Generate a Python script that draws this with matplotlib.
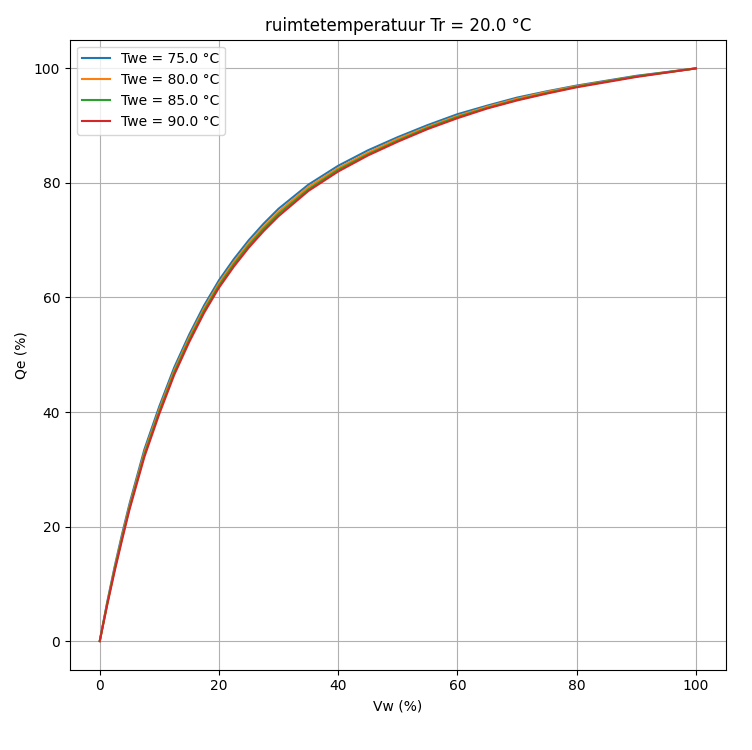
import numpy as np
import matplotlib.pyplot as plt

# values
vw = [0, 1.25, 2.5, 3.75, 5, 7.5, 10, 12.5, 15, 17.5, 20, 22.5, 25, 27.5, 30, 35, 40, 45, 50, 55, 60, 65, 70, 75, 80, 90, 100]
qe_75 = [0, 6.8, 13, 18.7, 24, 33.5, 41, 47.8, 53.5, 58.6, 63, 66.7, 70, 72.9, 75.5, 79.7, 83, 85.7, 88, 90.1, 92, 93.5, 94.9, 96, 97, 98.7, 100]
qe_80 = [0, 6.6, 12.7, 18.3, 23.6, 33, 40.5, 47.3, 53, 58.1, 62.5, 66.2, 69.5, 72.4, 75, 79.3, 82.6, 85.3, 87.7, 89.8, 91.7, 93.3, 94.7, 95.9, 96.9, 98.6, 100]
qe_85 = [0, 6.5, 12.5, 18, 23.3, 32.6, 40.1, 46.9, 52.6, 57.7, 62.1, 65.8, 69.1, 72, 74.6, 78.9, 82.3, 85, 87.4, 89.6, 91.5, 93.1, 94.5, 95.7, 96.8, 98.6, 100]
qe_90 = [0, 6.3, 12.2, 17.7, 23, 32.2, 39.7, 46.5, 52.2, 57.3, 61.7, 65.4, 68.7, 71.6, 74.2, 78.6, 82, 84.8, 87.2, 89.4, 91.3, 93, 94.4, 95.6, 96.7, 98.5, 100]
labels = ['Twe = 75.0 °C', 'Twe = 80.0 °C', 'Twe = 85.0 °C', 'Twe = 90.0 °C']

fig = plt.figure(figsize=(7.52, 7.5), dpi=100)
ax = fig.add_axes([0.093, 0.107, 0.872, 0.84])
for y, lab in zip([qe_75, qe_80, qe_85, qe_90], labels):
    ax.plot(vw, y, label=lab)
ax.set_xlim(-5, 105)
ax.set_ylim(-5, 105)
ax.grid(True)
ax.set_xlabel('Vw (%)')
ax.set_ylabel('Qe (%)')
ax.set_title('ruimtetemperatuur Tr = 20.0 °C')
ax.legend(loc='upper left')
fig.savefig('out.png')
